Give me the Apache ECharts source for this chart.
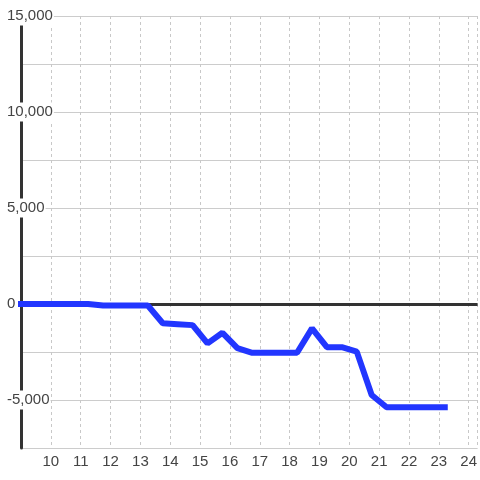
<!DOCTYPE html>
<html>
<head>
<meta charset="utf-8">
<script src="https://cdn.jsdelivr.net/npm/echarts@6/dist/echarts.min.js"></script>
<style>
  html, body { margin: 0; padding: 0; background: #fff; }
  #chart { width: 480px; height: 480px; }
</style>
</head>
<body>
<div id="chart"></div>
<script>
// x positions (hours) and values
var hours = [8.75, 11.25, 11.75, 13.25, 13.75, 14.25, 14.75, 15.25, 15.75, 16.25, 16.75, 18.25, 18.75, 19.25, 19.75, 20.25, 20.75, 21.25, 23.3];
var values = [0, 0, -80, -80, -1000, -1050, -1100, -2050, -1500, -2300, -2540, -2540, -1270, -2250, -2250, -2480, -4740, -5380, -5380];

var yMin = -7500;
var yMax = 15000;
var yStep = 2500;
var xMin = 9;
var xMax = 24.3;

var chart = echarts.init(document.getElementById('chart'), null, { renderer: 'canvas' });

function getSeriesData() {
  var temp = [];
  for (var i = 0; i < hours.length; i++) {
    temp.push([hours[i], values[i]]);
  }
  return temp;
}

var option = {
  animation: false,
  backgroundColor: '#fff',
  textStyle: { fontFamily: 'Liberation Sans, Arial, sans-serif' },
  grid: {
    left: 21,
    right: 0,
    top: 16,
    bottom: 32,
    containLabel: false
  },
  xAxis: {
    type: 'value',
    min: xMin,
    max: xMax,
    interval: 1,
    axisLine: { show: false },
    axisTick: { show: false },
    splitLine: {
      show: true,
      lineStyle: { color: '#c8c8c8', type: [3, 3], width: 1 }
    },
    axisLabel: {
      showMinLabel: false,
      showMaxLabel: false,
      margin: 6,
      fontSize: 15,
      color: '#444',
      formatter: function (v) {
        return Math.round(v) === v ? String(v) : '';
      }
    }
  },
  yAxis: {
    type: 'value',
    min: yMin,
    max: yMax,
    interval: yStep,
    axisLine: {
      show: true,
      onZero: false,
      lineStyle: { color: '#333', width: 3 }
    },
    axisTick: { show: false },
    splitLine: {
      show: true,
      lineStyle: { color: '#cccccc', width: 1 }
    },
    axisLabel: {
      align: 'left',
      margin: 15,
      fontSize: 15,
      color: '#444',
      backgroundColor: '#fff',
      padding: [4, 1, 0, 1],
      formatter: function (v) {
        if (v % 5000 !== 0 || v === yMin) return '';
        return v.toLocaleString('en-US');
      }
    }
  },
  series: [
    {
      // zero line, kept under the data line
      type: 'line',
      data: [],
      z: 1,
      markLine: {
        silent: true,
        symbol: ['none', 'none'],
        label: { show: false },
        lineStyle: { color: '#333', width: 3, type: 'solid' },
        data: [{ yAxis: 0 }]
      }
    },
    {
      type: 'line',
      z: 5,
      showSymbol: false,
      clip: true,
      lineStyle: { color: '#2236ff', width: 6 },
      data: getSeriesData()
    }
  ]
};

chart.setOption(option);
</script>
</body>
</html>
